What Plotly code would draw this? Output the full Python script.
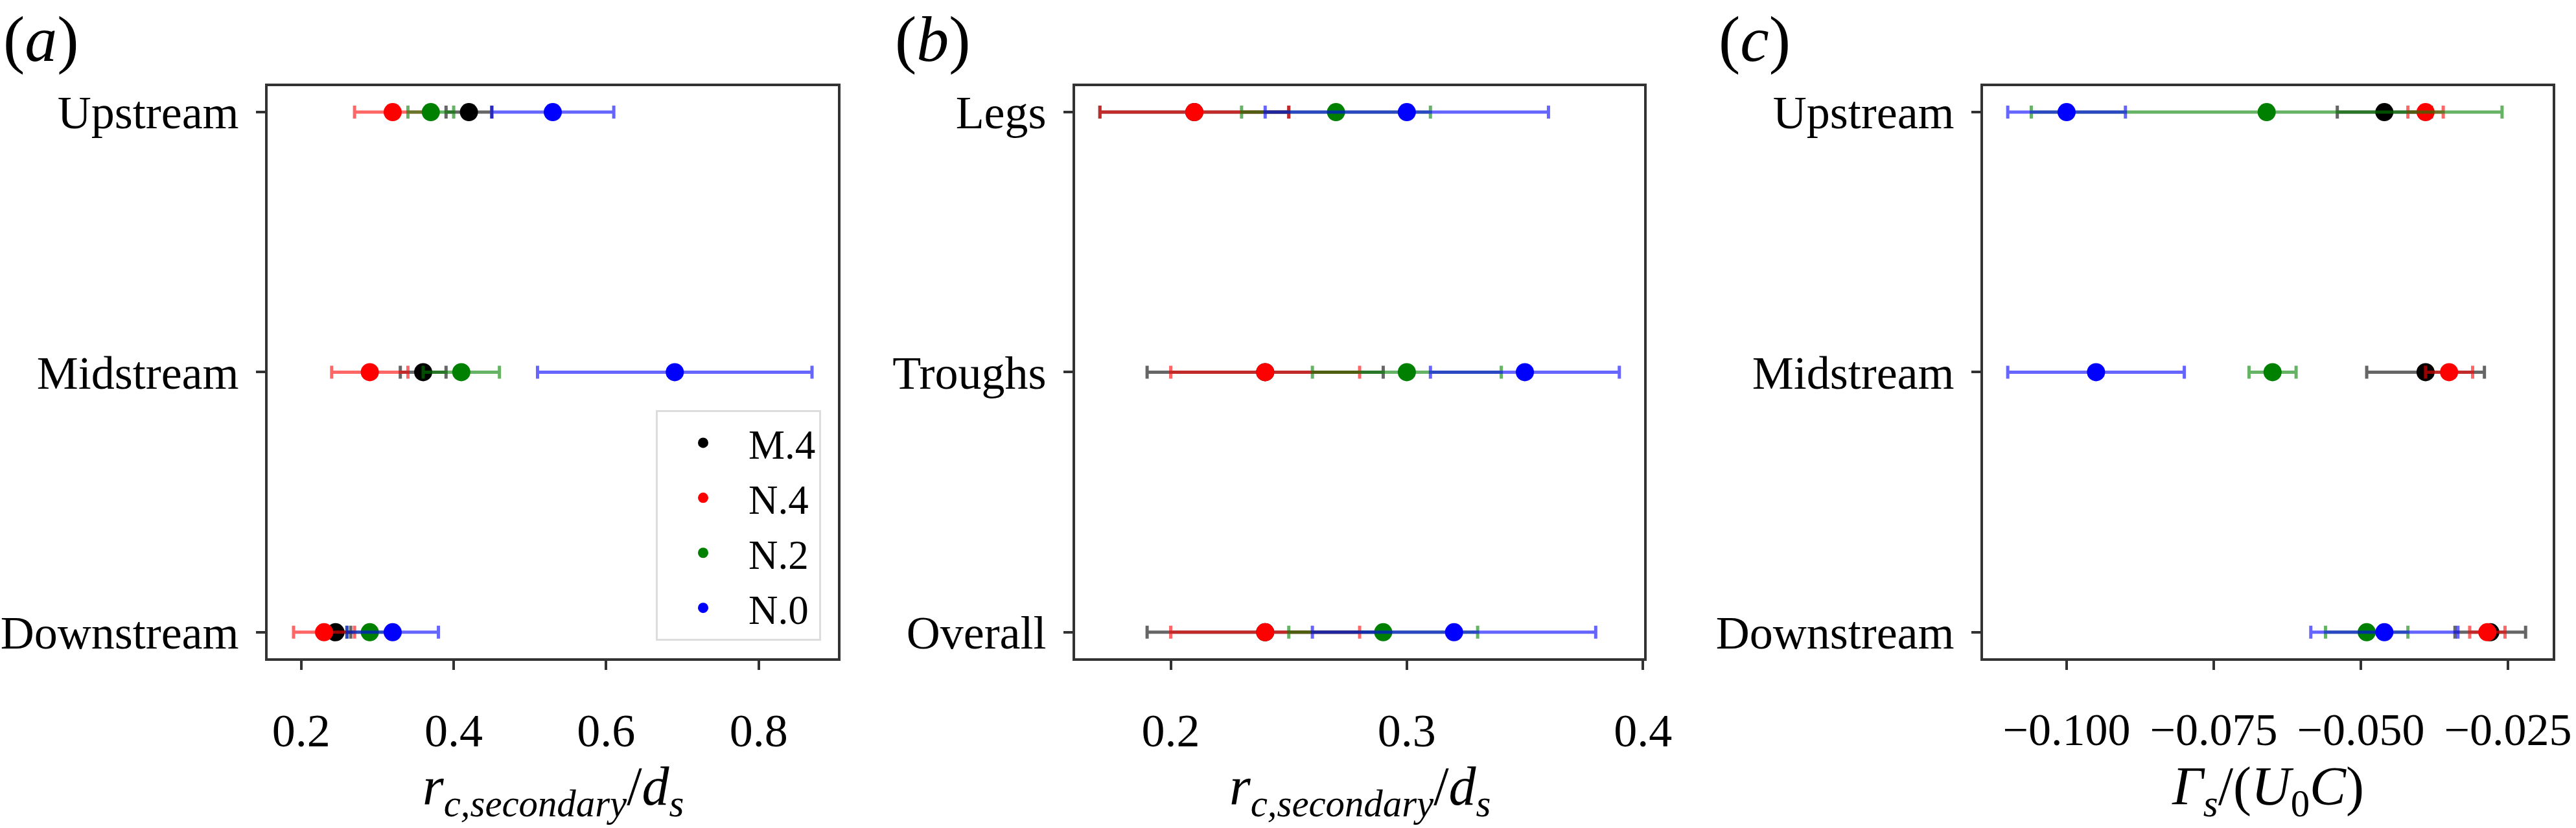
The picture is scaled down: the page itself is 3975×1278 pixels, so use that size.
import plotly.graph_objects as go

# panel (a) and (c): stations, panel (b): regions
stations = ["Upstream", "Midstream", "Downstream"]
regions = ["Legs", "Troughs", "Overall"]
cases = ["M.4", "N.4", "N.2", "N.0"]

# (a) r_c,secondary / d_s
a_val = {
    "M.4": [0.42, 0.36, 0.245],
    "N.4": [0.32, 0.29, 0.23],
    "N.2": [0.37, 0.41, 0.29],
    "N.0": [0.53, 0.69, 0.32],
}
a_err = {
    "M.4": [0.03, 0.03, 0.02],
    "N.4": [0.05, 0.05, 0.04],
    "N.2": [0.03, 0.05, 0.03],
    "N.0": [0.08, 0.18, 0.06],
}

# (b) r_c,secondary / d_s by region
b_val = {
    "M.4": [0.21, 0.24, 0.24],
    "N.4": [0.21, 0.24, 0.24],
    "N.2": [0.27, 0.30, 0.29],
    "N.0": [0.30, 0.35, 0.32],
}
b_err = {
    "M.4": [0.04, 0.05, 0.05],
    "N.4": [0.04, 0.04, 0.04],
    "N.2": [0.04, 0.04, 0.04],
    "N.0": [0.06, 0.04, 0.06],
}

# (c) Gamma_s / (U0 C)
c_val = {
    "M.4": [-0.046, -0.039, -0.028],
    "N.4": [-0.039, -0.035, -0.0285],
    "N.2": [-0.066, -0.065, -0.049],
    "N.0": [-0.100, -0.095, -0.046],
}
c_err = {
    "M.4": [0.008, 0.010, 0.006],
    "N.4": [0.003, 0.004, 0.003],
    "N.2": [0.040, 0.004, 0.007],
    "N.0": [0.010, 0.015, 0.0125],
}

a_ticks = [0.2, 0.4, 0.6, 0.8]
b_ticks = [0.2, 0.3, 0.4]
c_ticks = [-0.100, -0.075, -0.050, -0.025]

colors = {"M.4": "0,0,0", "N.4": "255,0,0", "N.2": "0,128,0", "N.0": "0,0,255"}

W, H = 3975, 1278
FONT = "Liberation Serif"
AX = "#333333"

fig = go.Figure()

panels = [
    ("x", "y", stations, a_val, a_err, True),
    ("x2", "y2", regions, b_val, b_err, False),
    ("x3", "y3", stations, c_val, c_err, False),
]
for xa, ya, cats, vals, errs, leg in panels:
    for c in cases:
        fig.add_trace(go.Scatter(
            x=vals[c], y=cats, xaxis=xa, yaxis=ya,
            mode="markers", name=c, showlegend=leg,
            marker=dict(color="rgb(%s)" % colors[c], size=28),
            error_x=dict(type="data", array=errs[c], color="rgba(%s,0.6)" % colors[c],
                         thickness=5, width=10),
        ))

def xaxis(dom, rng, ticks, fmt, fs=72):
    return dict(domain=dom, range=rng, tickvals=ticks, tickformat=fmt,
                showline=True, mirror=True, linecolor=AX, linewidth=4,
                ticks="outside", ticklen=14, tickwidth=4, tickcolor=AX,
                showgrid=False, zeroline=False, ticklabelstandoff=32,
                automargin=False,
                tickfont=dict(family=FONT, size=fs, color="black"))

def yaxis(anchor, cats):
    return dict(domain=[0.205, 0.896], anchor=anchor, type="category",
                categoryorder="array", categoryarray=cats, range=[2.1, -0.1],
                showline=True, mirror=True, linecolor=AX, linewidth=4,
                ticks="outside", ticklen=14, tickwidth=4, tickcolor=AX,
                showgrid=False, zeroline=False, ticklabelstandoff=12,
                automargin=False,
                tickfont=dict(family=FONT, size=72, color="black"))

fig.update_layout(
    width=W, height=H,
    margin=dict(l=0, r=0, t=0, b=0),
    paper_bgcolor="white", plot_bgcolor="white",
    xaxis=xaxis([413 / W, 1293 / W], [0.156, 0.904], a_ticks, ".1f"),
    xaxis2=xaxis([1659 / W, 2537 / W], [0.1595, 0.4005], b_ticks, ".1f"),
    xaxis3=xaxis([3060 / W, 3939 / W], [-0.1142, -0.0174], c_ticks, ".3f", 70),
    yaxis=yaxis("x", stations),
    yaxis2=yaxis("x2", regions),
    yaxis3=yaxis("x3", stations),
    legend=dict(x=1267 / W, y=1 - 989 / H, xanchor="right", yanchor="bottom",
                bgcolor="white", bordercolor="#dddddd", borderwidth=3,
                itemwidth=130,
                font=dict(family=FONT, size=63, color="black")),
)

# axis titles
r_title = "<i>r</i><sub><i>c,secondary</i></sub>/<i>d</i><sub><i>s</i></sub>"
g_title = "<i>Γ</i><sub><i>s</i></sub>/(<i>U</i><sub>0</sub><i>C</i>)"
for xc, txt in [((413 + 1293) / 2, r_title), ((1659 + 2537) / 2, r_title),
                ((3060 + 3939) / 2, g_title)]:
    fig.add_annotation(x=xc / W, y=1 - 1220 / H, xref="paper", yref="paper",
                       text=txt, showarrow=False, xanchor="center", yanchor="middle",
                       font=dict(family=FONT, size=84, color="black"))

# panel labels
for xl, lab in [(3, "a"), (1379, "b"), (2650, "c")]:
    fig.add_annotation(x=xl / W, y=1 - 60 / H, xref="paper", yref="paper",
                       text="(<i>%s</i>)" % lab, showarrow=False,
                       xanchor="left", yanchor="middle",
                       font=dict(family=FONT, size=100, color="black"))

# drop the default page margin so the figure sits at the window origin
fig.write_html("out.html", config={"displayModeBar": False},
               post_script="document.body.style.margin='0';")
